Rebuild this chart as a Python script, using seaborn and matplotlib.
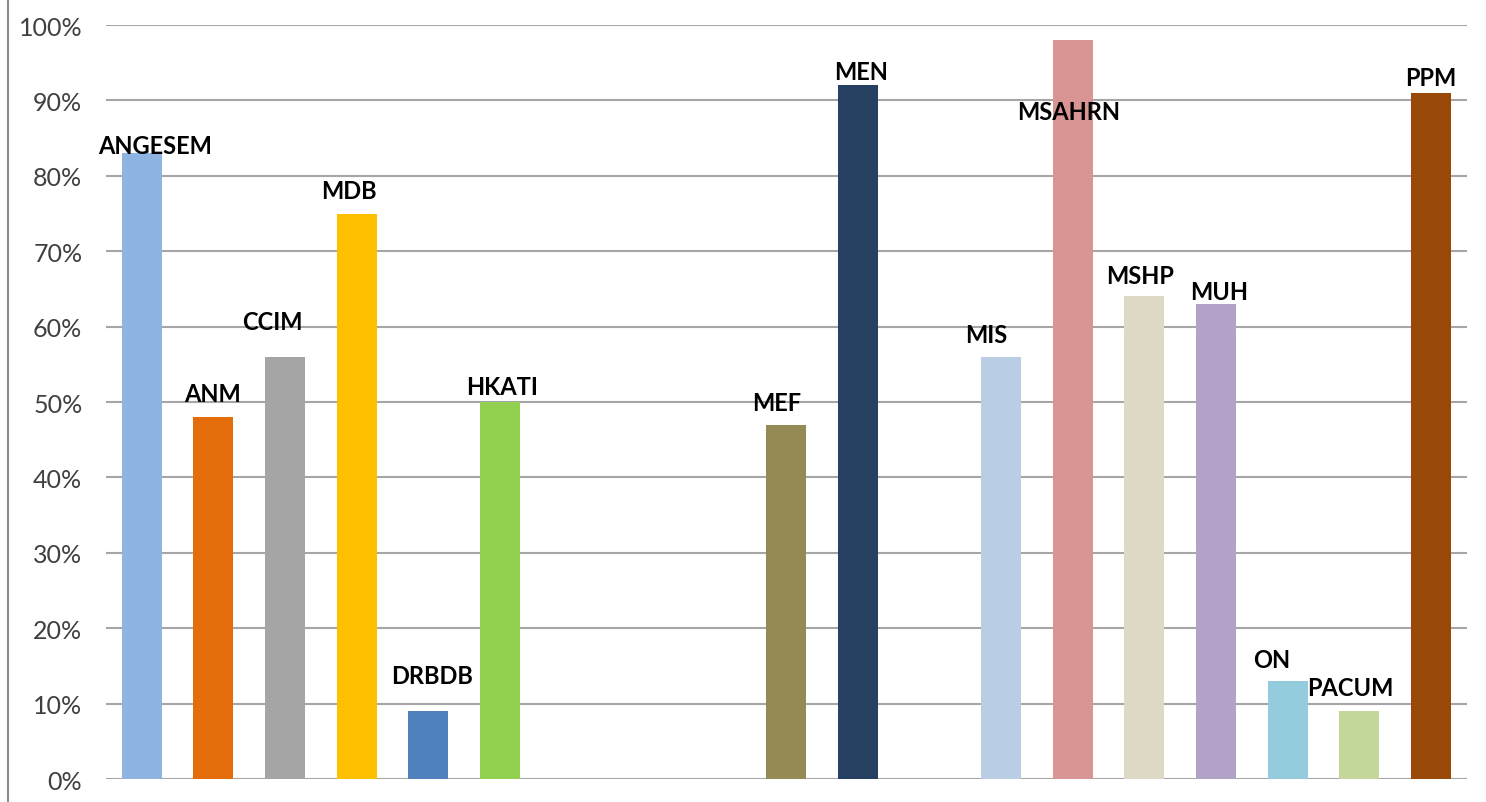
import pandas as pd
import numpy as np
import matplotlib
matplotlib.use("Agg")
import matplotlib.pyplot as plt
import seaborn as sns
from matplotlib.lines import Line2D
from matplotlib.ticker import PercentFormatter

# Category names, in chart order ("gap" slots are empty gaps in the original chart)
slots = ["ANGESEM", "ANM", "CCIM", "MDB", "DRBDB", "HKATI", "gap1", "gap2", "gap3",
         "MEF", "MEN", "gap4", "MIS", "MSAHRN", "MSHP", "MUH", "ON", "PACUM", "PPM"]
categories = ["ANGESEM", "ANM", "CCIM", "MDB", "DRBDB", "HKATI", "MEF", "MEN",
              "MIS", "MSAHRN", "MSHP", "MUH", "ON", "PACUM", "PPM"]
values = [83, 48, 56, 75, 9, 50, 47, 92, 56, 98, 64, 63, 13, 9, 91]
colors = ["#8DB4E2", "#E46C0A", "#A5A5A5", "#FFC000", "#4F81BD", "#92D050",
          "#948A54", "#254061", "#B9CDE5", "#D99594", "#DDD9C4", "#B2A2C7",
          "#93CDDD", "#C4D79B", "#984807"]

# manual label placement (offset in slots, height in %), as in the source chart
label_dx = [0.18, -0.01, -0.17, -0.11, 0.06, 0.03, -0.14, 0.04, -0.21, -0.06, -0.06, 0.04, -0.22, -0.13, 0.0]
label_y = [84.0, 51.1, 60.7, 78.0, 13.7, 52.1, 49.9, 93.9, 58.9, 88.5, 66.8, 64.7, 15.8, 12.2, 93.1]

df = pd.DataFrame({"cat": categories, "val": values})

sns.set_style("white")
plt.rcParams["font.family"] = ["Lato", "DejaVu Sans"]

fig = plt.figure(figsize=(14.86, 8.03), dpi=100)
ax = fig.add_axes([0.0713, 0.0286, 0.9157, 0.939])

sns.barplot(data=df, x="cat", y="val", hue="cat", order=slots, hue_order=categories,
            palette=dict(zip(categories, colors)), legend=False, width=0.56,
            saturation=1, linewidth=0, ax=ax)

ax.set_ylim(0, 100)
ax.set_xlim(-0.5, len(slots) - 0.5)
ax.set_yticks(np.arange(0, 101, 10))
ax.yaxis.set_major_formatter(PercentFormatter(decimals=0))
ax.tick_params(axis="y", labelsize=18, colors="#404040", length=0, pad=17)
ax.set_xticks([])
ax.set_xlabel("")
ax.set_ylabel("")
ax.grid(axis="y", color="#A6A6A6", linewidth=1.5)
ax.set_axisbelow(True)
for s in ax.spines.values():
    s.set_visible(False)

for i, cat in enumerate(categories):
    x = slots.index(cat) + label_dx[i]
    ax.text(x, label_y[i], cat, ha="center", va="center", fontsize=17,
            fontweight="bold", color="black")

# chart border on the left edge
fig.add_artist(Line2D([8 / 1486, 8 / 1486], [0, 1], color="#8C8C8C", linewidth=1.5,
                      transform=fig.transFigure))

fig.savefig("out.png", dpi=100)
